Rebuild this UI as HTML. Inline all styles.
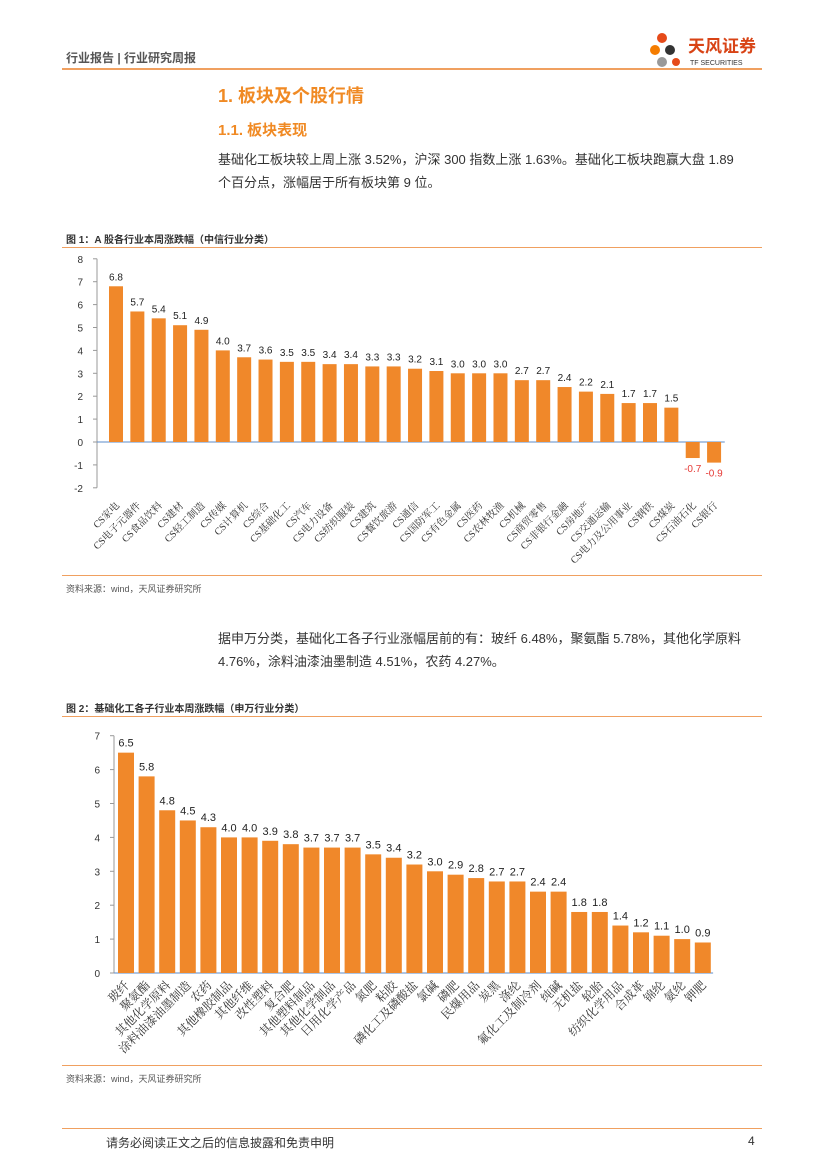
<!DOCTYPE html>
<html><head><meta charset="utf-8">
<style>
body{margin:0;width:827px;height:1169px;background:#fff;overflow:hidden;font-family:"Liberation Sans","Noto Sans CJK SC",sans-serif;position:relative}
.abs{position:absolute;white-space:nowrap}
</style></head><body>
<div class="abs" style="left:66px;top:49px;font-size:12px;color:#555;font-weight:bold">行业报告 | 行业研究周报</div>
<div class="abs" style="left:62px;top:68px;width:700px;height:2px;background:#f0a060"></div>
<div class="abs" style="left:650px;top:30px;width:120px;height:40px">
<svg width="120" height="40"><circle cx="12" cy="8" r="5" fill="#e64a19"/><circle cx="5" cy="20" r="5" fill="#f57c00"/><circle cx="20" cy="20" r="5" fill="#333"/><circle cx="12" cy="32" r="5" fill="#999"/><circle cx="26" cy="32" r="4" fill="#e64a19"/>
<text x="38" y="22" font-size="17" font-weight="bold" fill="#d84315">天风证券</text><text x="40" y="35" font-size="7" fill="#333">TF SECURITIES</text></svg></div>
<div class="abs" style="left:218px;top:82px;font-size:18px;font-weight:bold;color:#f08a24">1. 板块及个股行情</div>
<div class="abs" style="left:218px;top:119px;font-size:15px;font-weight:bold;color:#f08a24">1.1. 板块表现</div>
<div class="abs" style="left:218px;top:148px;font-size:13px;line-height:23px;color:#333">基础化工板块较上周上涨 3.52%，沪深 300 指数上涨 1.63%。基础化工板块跑赢大盘 1.89<br>个百分点，涨幅居于所有板块第 9 位。</div>
<div class="abs" style="left:66px;top:231px;font-size:10px;font-weight:bold;color:#333">图 1：A 股各行业本周涨跌幅（中信行业分类）</div>
<div class="abs" style="left:62px;top:247px;width:700px;height:1px;background:#f0a060"></div>
<div class="abs" style="left:62px;top:575px;width:700px;height:1px;background:#f0a060"></div>
<div class="abs" style="left:66px;top:582px;font-size:9px;color:#555">资料来源：wind，天风证券研究所</div>
<div class="abs" style="left:218px;top:627px;width:545px;font-size:13px;line-height:23px;color:#333;white-space:normal">据申万分类，基础化工各子行业涨幅居前的有：玻纤 6.48%，聚氨酯 5.78%，其他化学原料 4.76%，涂料油漆油墨制造 4.51%，农药 4.27%。</div>
<div class="abs" style="left:66px;top:700px;font-size:10px;font-weight:bold;color:#333">图 2：基础化工各子行业本周涨跌幅（申万行业分类）</div>
<div class="abs" style="left:62px;top:716px;width:700px;height:1px;background:#f0a060"></div>
<div class="abs" style="left:62px;top:1065px;width:700px;height:1px;background:#f0a060"></div>
<div class="abs" style="left:66px;top:1072px;font-size:9px;color:#555">资料来源：wind，天风证券研究所</div>
<div class="abs" style="left:62px;top:1128px;width:700px;height:1px;background:#f0a060"></div>
<div class="abs" style="left:106px;top:1134px;font-size:12px;color:#333">请务必阅读正文之后的信息披露和免责申明</div>
<div class="abs" style="left:748px;top:1134px;font-size:12px;color:#333">4</div>

<svg id="c1" class="abs" style="left:0;top:250px" width="827" height="325"></svg>
<svg id="c2" class="abs" style="left:0;top:720px" width="827" height="345"></svg>

<script>
const cats1=["CS家电","CS电子元器件","CS食品饮料","CS建材","CS轻工制造","CS传媒","CS计算机","CS综合","CS基础化工","CS汽车","CS电力设备","CS纺织服装","CS建筑","CS餐饮旅游","CS通信","CS国防军工","CS有色金属","CS医药","CS农林牧渔","CS机械","CS商贸零售","CS非银行金融","CS房地产","CS交通运输","CS电力及公用事业","CS钢铁","CS煤炭","CS石油石化","CS银行"];
const vals1=[6.8,5.7,5.4,5.1,4.9,4.0,3.7,3.6,3.5,3.5,3.4,3.4,3.3,3.3,3.2,3.1,3.0,3.0,3.0,2.7,2.7,2.4,2.2,2.1,1.7,1.7,1.5,-0.7,-0.9];
const ticks1=[-2,-1,0,1,2,3,4,5,6,7,8];
const cats2=["玻纤","聚氨酯","其他化学原料","涂料油漆油墨制造","农药","其他橡胶制品","其他纤维","改性塑料","复合肥","其他塑料制品","其他化学制品","日用化学产品","氮肥","粘胶","磷化工及磷酸盐","氯碱","磷肥","民爆用品","炭黑","涤纶","氟化工及制冷剂","纯碱","无机盐","轮胎","纺织化学用品","合成革","锦纶","氨纶","钾肥"];
const vals2=[6.5,5.8,4.8,4.5,4.3,4.0,4.0,3.9,3.8,3.7,3.7,3.7,3.5,3.4,3.2,3.0,2.9,2.8,2.7,2.7,2.4,2.4,1.8,1.8,1.4,1.2,1.1,1.0,0.9];
const ticks2=[0,1,2,3,4,5,6,7];
const NS="http://www.w3.org/2000/svg";
function mk(svg,tag,at,txt){const e=document.createElementNS(NS,tag);for(const k in at)e.setAttribute(k,at[k]);if(txt!==undefined)e.textContent=txt;svg.appendChild(e);return e;}
function draw(svg,cats,vals,ticks,o){
  const y=v=>o.y0-v*o.u, x=i=>o.x0+i*o.step;
  const ax=mk(svg,'line',{x1:o.ax,x2:o.ax,y1:y(ticks[ticks.length-1]),y2:y(ticks[0]),stroke:'#999'});
  
  ticks.forEach(t=>{const l=mk(svg,'text',{x:o.ax-14,y:y(t)+4,'font-size':10,'text-anchor':'end',fill:'#333'},t);
    
    mk(svg,'line',{x1:o.ax-4,x2:o.ax,y1:y(t),y2:y(t),stroke:'#999'});});
  const xa=mk(svg,'line',{x1:o.ax,x2:x(cats.length-1)+o.step/2,y1:y(0),y2:y(0),stroke:'#5b8bc9'});
  
  vals.forEach((v,i)=>{
    const cx=x(i);
    const b=mk(svg,'rect',{x:cx-o.bw/2,y:Math.min(y(v),y(0)),width:o.bw,height:Math.abs(y(v)-y(0)),fill:'#f0882a'});
    
    const neg=v<0;
    const vl=mk(svg,'text',{x:cx,y:neg?y(v)+14:y(v)-6,'font-size':o.vf,'text-anchor':'middle',fill:neg?'#e53935':'#222'},v.toFixed(1));
    
    const ly=o.labY;
    const cl=mk(svg,'text',{x:cx+4,y:ly,'font-size':o.lf,'text-anchor':'end',fill:'#333',transform:`rotate(-45 ${cx+4} ${ly})`,'font-family':'"Liberation Serif","Noto Serif CJK SC",serif'},cats[i]);
    
  });
}
draw(document.getElementById('c1'),cats1,vals1,ticks1,{x0:116,step:21.36,bw:14,y0:192,u:22.9,ax:97,labY:256,vf:10,lf:10});
draw(document.getElementById('c2'),cats2,vals2,ticks2,{x0:126,step:20.6,bw:16,y0:253,u:33.9,ax:114,labY:266,vf:11,lf:12});
</script>
</body></html>
